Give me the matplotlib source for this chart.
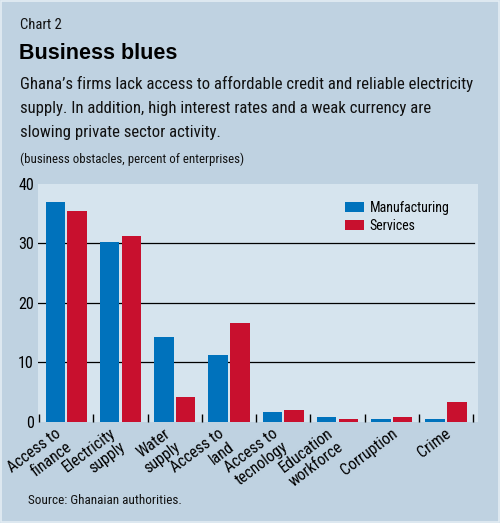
import numpy as np
import matplotlib
matplotlib.use("Agg")
import matplotlib.pyplot as plt
from matplotlib import font_manager
from matplotlib.patches import Rectangle
from matplotlib.transforms import ScaledTranslation

categories = ["Access to\nfinance", "Electricity\nsupply", "Water\nsupply", "Access to\nland",
              "Access to\ntecnology", "Education\nworkforce", "Corruption", "Crime"]
manufacturing = [37.0, 30.2, 14.2, 11.2, 1.6, 0.8, 0.5, 0.5]
services = [35.5, 31.3, 4.1, 16.6, 2.0, 0.5, 0.8, 3.4]
yticks = [0, 10, 20, 30, 40]

BG = "#bfd2e1"
PLOT_BG = "#d6e4ee"
BLUE = "#0072bc"
RED = "#c8102e"

# pick a condensed face if one is installed
installed = {f.name for f in font_manager.fontManager.ttflist}
condensed = [f.name for f in font_manager.fontManager.ttflist
             if f.stretch in ("condensed", "semi-condensed", "extra-condensed") or
             "Narrow" in f.name or "Condensed" in f.name]
NARROW_NAME = None
for cand in ["Liberation Sans Narrow", "Roboto Condensed", "Open Sans Condensed",
             "DejaVu Sans Condensed", "Noto Sans Condensed"]:
    if cand in installed:
        NARROW_NAME = cand
        break
STRETCH = "normal"
if NARROW_NAME is None:
    if condensed:
        NARROW_NAME = condensed[0]
        STRETCH = "condensed"
    else:
        NARROW_NAME = "DejaVu Sans"
        STRETCH = "condensed"
NARROW = [NARROW_NAME, "DejaVu Sans"]


def ntext(x, y, s, size, **kw):
    return fig.text(x, y, s, fontsize=size, family=NARROW, fontstretch=STRETCH,
                    color="#111111", **kw)


fig = plt.figure(figsize=(5.0, 5.23), dpi=100, facecolor=BG)
fig.patches.append(Rectangle((0.002, 0.002), 0.996, 0.996, transform=fig.transFigure,
                             facecolor="none", edgecolor="#e4edf4", linewidth=1.2))

H = 523.0
ntext(0.04, 1 - 29 / H, "Chart 2", 10.5, va="baseline")
fig.text(0.038, 1 - 59 / H, "Business blues", fontsize=15.5, family="Liberation Sans",
         fontweight="bold", color="black", va="baseline")
lines = ["Ghana\u2019s firms lack access to affordable credit and reliable electricity",
         "supply. In addition, high interest rates and a weak currency are",
         "slowing private sector activity."]
for i, line in enumerate(lines):
    ntext(0.04, 1 - (89 + 24 * i) / H, line, 12.1, va="baseline")
ntext(0.04, 1 - 163 / H, "(business obstacles, percent of enterprises)", 9.3, va="baseline")
ntext(0.056, 1 - 504 / H, "Source: Ghanaian authorities.", 9.5, va="baseline")

ax = fig.add_axes([0.076, 0.1925, 0.88, 0.4557], facecolor=PLOT_BG)
x = np.arange(len(categories))
for y in yticks[1:-1]:
    ax.axhline(y, xmin=0, xmax=0.99, color="black", linewidth=0.9, zorder=1)
ax.bar(x - 0.2, manufacturing, width=0.36, color=BLUE, label="Manufacturing", zorder=2)
ax.bar(x + 0.2, services, width=0.36, color=RED, label="Services", zorder=2)

ax.set_xlim(-0.52, 7.59)
ax.set_ylim(-0.1, 40.0)
ax.set_yticks(yticks)
ax.set_yticklabels([str(v) for v in yticks], family=NARROW, fontstretch=STRETCH, fontsize=11.5)
ax.tick_params(axis="y", length=0, pad=3)

ax.set_xticks(x)
ax.set_xticklabels(categories, rotation=37, ha="right", va="top",
                   multialignment="right", family=NARROW, fontstretch=STRETCH,
                   fontsize=11.5, linespacing=1.15)
ax.tick_params(axis="x", which="major", length=0, pad=2.5)
shift = ScaledTranslation(0.08, 0, fig.dpi_scale_trans)
for lbl in ax.get_xticklabels():
    lbl.set_transform(lbl.get_transform() + shift)
ax.set_xticks(np.arange(len(categories) + 1) - 0.5, minor=True)
ax.tick_params(axis="x", which="minor", direction="in", length=6, width=1, color="black")

for s in ax.spines.values():
    s.set_visible(False)

leg = ax.legend(loc="upper left", bbox_to_anchor=(0.697, 0.93), frameon=False,
                prop={"family": NARROW, "stretch": STRETCH, "size": 10}, handlelength=1.38,
                handleheight=0.8, handletextpad=0.4, labelspacing=0.3, borderaxespad=0,
                borderpad=0)

fig.savefig("out.png", dpi=100, facecolor=BG)
